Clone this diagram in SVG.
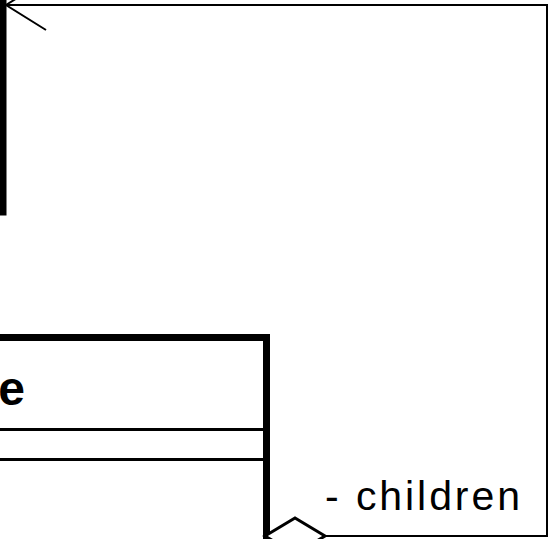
<svg xmlns="http://www.w3.org/2000/svg" width="550" height="539" viewBox="0 0 550 539">
  <style>
    .box { fill: #ffffff; stroke: #000000; stroke-width: 7; }
    .sep { stroke: #000000; stroke-width: 3; fill: none; }
    .edge { stroke: #000000; stroke-width: 2; fill: none; }
    .name { font-family: "Liberation Sans", Arial, sans-serif; font-weight: bold; font-size: 48px; fill: #000000; }
    .role { font-family: "Liberation Sans", Arial, sans-serif; font-size: 41px; fill: #000000; }
  </style>
  <rect width="550" height="539" fill="#ffffff"/>

  <!-- parent class, only its right border is in view -->
  <g id="node-parent">
    <rect class="box" x="-200" y="-100" width="203" height="312"/>
  </g>

  <!-- child class with name and two compartments -->
  <g id="node-child">
    <rect class="box" x="-200" y="337.5" width="466.5" height="300"/>
    <text class="name" x="25" y="405" text-anchor="end">e</text>
    <line class="sep" x1="-10" y1="429.5" x2="263" y2="429.5"/>
    <line class="sep" x1="-10" y1="459.5" x2="263" y2="459.5"/>
  </g>

  <!-- aggregation: diamond at the child, open arrow at the parent -->
  <g id="connectors">
    <polyline class="edge" points="325,536 547,536 547,5 6,5"/>
    <polyline class="edge" stroke-width="3" points="46,30 6,5 46,-20"/>
    <polygon fill="#ffffff" stroke="#000000" stroke-width="3" points="265,536 295,518 325,536 295,554"/>
    <text class="role" x="325" y="510" textLength="195">- children</text>
  </g>
</svg>
